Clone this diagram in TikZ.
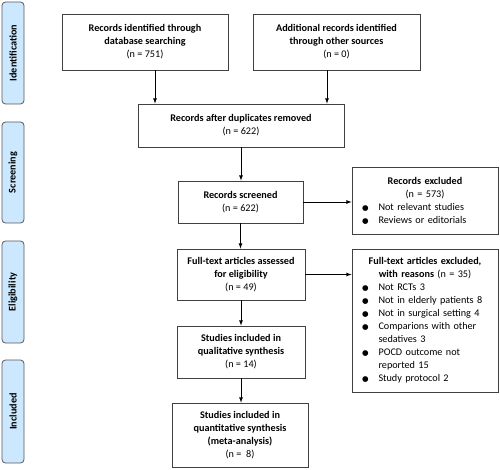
\documentclass[tikz,border=0pt]{standalone}
\usepackage{fontspec}
\setmainfont{Carlito}
\newfontfamily\dejavu{DejaVu Sans}
\usepackage{tikz}
\usetikzlibrary{arrows}
\definecolor{sideblue}{RGB}{204,232,255}
\newcommand{\bul}{\makebox[16.5pt][l]{\dejavu\fontsize{7.5}{7.5}\selectfont ●}}

\begin{document}
\begin{tikzpicture}[x=1pt, y=-1pt, font=\fontsize{10.2}{13}\selectfont, >=latex,
    box node/.style={draw=black!75, line width=.8pt, align=center, inner sep=2pt},
    list node/.style={draw=black!75, line width=.8pt, inner xsep=10pt, inner ysep=3pt, text width=126pt},
    side node/.style={draw=black!65, line width=.8pt, fill=sideblue, rounded corners=3.5pt, rotate=90, minimum height=22pt, inner sep=0pt, font=\fontsize{10.2}{12}\selectfont\bfseries},
    link/.style={->, line width=.8pt}]
\useasboundingbox (0,0) rectangle (500,470);

% stage labels
\node[side node, minimum width=102pt] (sideid) at (13,53) {Identification};
\node[side node, minimum width=101pt] (sidescr) at (13,172.5) {Screening};
\node[side node, minimum width=102pt] (sideel) at (13,292) {Eligibility};
\node[side node, minimum width=103pt] (sideinc) at (13,411.5) {Included};

% flow boxes
\node[box node, minimum width=166pt, minimum height=56pt] (db) at (145,42)
    {\textbf{Records identified through}\\\textbf{database searching}\\(n = 751)};
\node[box node, minimum width=167pt, minimum height=56pt] (other) at (336.5,42)
    {\textbf{Additional records identified}\\\textbf{through other sources}\\(n = 0)};
\node[box node, minimum width=206pt, minimum height=43pt] (dup) at (241,125.5)
    {\textbf{Records after duplicates removed}\\(n = 622)};
\node[box node, minimum width=125pt, minimum height=42pt] (scr) at (240.5,202)
    {\textbf{Records screened}\\(n = 622)};
\node[box node, minimum width=128pt, minimum height=51pt] (full) at (241,274.5)
    {\textbf{Full-text articles assessed}\\\textbf{for eligibility}\\(n = 49)};
\node[box node, minimum width=128pt, minimum height=52pt] (qual) at (241,352)
    {\textbf{Studies included in}\\\textbf{qualitative synthesis}\\(n = 14)};
\node[box node, minimum width=136pt, minimum height=64pt] (quant) at (240,435)
    {\textbf{Studies included in}\\\textbf{quantitative synthesis}\\\textbf{(meta-analysis)}\\(n = \ 8)};

% exclusion boxes
\node[list node, minimum height=67pt] (excl) at (425,200.5)
    {\parindent=0pt\centering\textbf{Records excluded}\\(n = 573)\par
    \raggedright
    \bul Not relevant studies\\
    \bul Reviews or editorials};
\node[list node, minimum height=143pt] (exclfull) at (425,320.5)
    {\parindent=0pt\centering\textbf{Full-text articles excluded,}\\\textbf{with reasons} (n = 35)\par
    \raggedright
    \bul Not RCTs 3\\
    \bul Not in elderly patients 8\\
    \bul Not in surgical setting 4\\
    \bul Comparions with other\\
    \hspace*{16.5pt}sedatives 3\\
    \bul POCD outcome not\\
    \hspace*{16.5pt}reported 15\\
    \bul Study protocol 2};

% arrows
\draw[link] ([xshift=10pt]db.south) -- ([xshift=10pt]db.south |- dup.north);
\draw[link] ([xshift=-9.5pt]other.south) -- ([xshift=-9.5pt]other.south |- dup.north);
\draw[link] (dup.south) -- (dup.south |- scr.north);
\draw[link] (scr.east) -- (scr.east -| excl.west);
\draw[link] (scr.south) -- (scr.south |- full.north);
\draw[link] (full.east) -- (full.east -| exclfull.west);
\draw[link] (full.south) -- (full.south |- qual.north);
\draw[link] (qual.south) -- (qual.south |- quant.north);
\end{tikzpicture}
\end{document}
